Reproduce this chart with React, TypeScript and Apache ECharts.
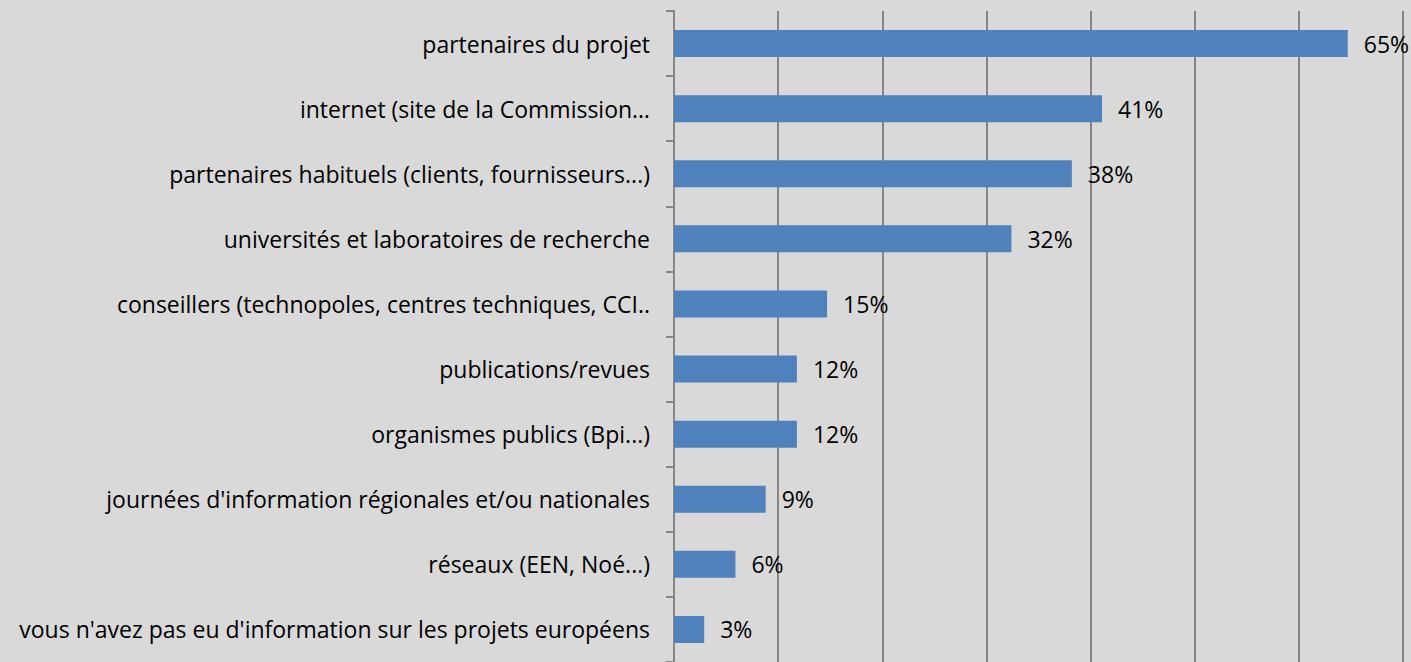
import React, { useEffect, useRef } from "react";
import * as echarts from "echarts";

const categories = [
  "partenaires du projet",
  "internet (site de la Commission…",
  "partenaires habituels (clients, fournisseurs...)",
  "universités et laboratoires de recherche",
  "conseillers (technopoles, centres techniques, CCI..",
  "publications/revues",
  "organismes publics (Bpi...)",
  "journées d'information régionales et/ou nationales",
  "réseaux (EEN, Noé...)",
  "vous n'avez pas eu d'information sur les projets européens",
];
const values = [64.7, 41.1, 38.2, 32.4, 14.7, 11.8, 11.8, 8.8, 5.9, 2.9];
const labels = ["65%", "41%", "38%", "32%", "15%", "12%", "12%", "9%", "6%", "3%"];

export default function App() {
  const ref = useRef<HTMLDivElement>(null);
  useEffect(() => {
    if (!ref.current) return;
    const chart = echarts.init(ref.current, null, { renderer: "svg" });
    const font = "'Open Sans', sans-serif";
    chart.setOption({
      animation: false,
      backgroundColor: "#d9d9d9",
      grid: { left: 674, top: 11, width: 729, height: 654, containLabel: false },
      xAxis: {
        type: "value",
        min: 0,
        max: 70,
        interval: 10,
        axisLabel: { show: false },
        axisLine: { show: false },
        axisTick: { show: false },
        splitLine: { show: true, lineStyle: { color: "#868686", width: 2 } },
      },
      yAxis: {
        type: "category",
        inverse: true,
        data: categories,
        axisLine: { show: true, lineStyle: { color: "#868686", width: 2 } },
        axisTick: { show: true, length: 8, lineStyle: { color: "#868686", width: 2 } },
        axisLabel: { color: "#000", fontFamily: font, fontSize: 23, margin: 24 },
      },
      series: [
        {
          type: "bar",
          data: values,
          barWidth: 27,
          itemStyle: { color: "#4f81bd" },
          label: {
            show: true,
            position: "right",
            distance: 16,
            color: "#000",
            fontFamily: font,
            fontSize: 23,
            formatter: (p: any) => labels[p.dataIndex],
          },
        },
      ],
    });
    return () => chart.dispose();
  }, []);
  return (
    <div
      ref={ref}
      style={{ position: "fixed", left: 0, top: 0, width: 1411, height: 662 }}
    />
  );
}
